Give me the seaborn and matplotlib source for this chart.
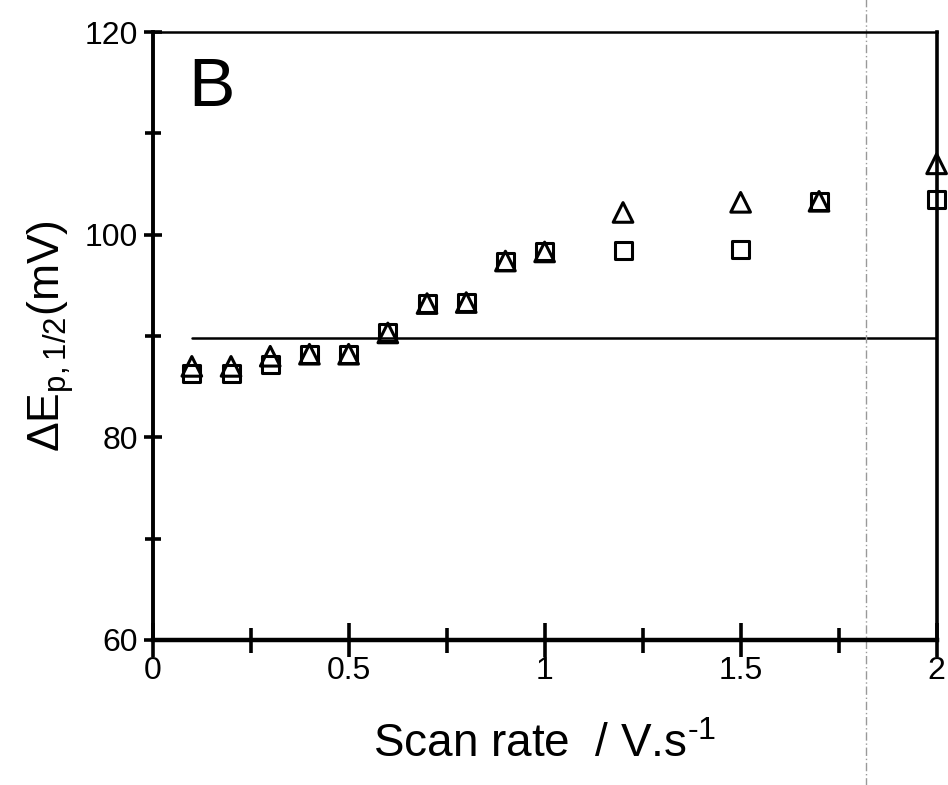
import pandas as pd
import seaborn as sns
import matplotlib.pyplot as plt
from matplotlib.ticker import MultipleLocator


# Data
scan_rate = [0.1, 0.2, 0.3, 0.4, 0.5, 0.6, 0.7, 0.8, 0.9, 1.0, 1.2, 1.5, 1.7, 2.0]
dep_triangle = [87.0, 87.0, 88.0, 88.2, 88.2, 90.3, 93.2, 93.3, 97.4, 98.3, 102.2, 103.2, 103.3, 107.0]
dep_square = [86.3, 86.3, 87.2, 88.2, 88.2, 90.3, 93.2, 93.3, 97.4, 98.3, 98.4, 98.5, 103.3, 103.5]
ref_x = [0.1, 2.0]
ref_y = [89.8, 89.8]

x_ticks = [0, 0.5, 1, 1.5, 2]
x_tick_labels = ['0', '0.5', '1', '1.5', '2']
y_ticks = [60, 80, 100, 120]


sns.set_style('ticks')
plt.rcParams['font.family'] = ['Liberation Sans', 'DejaVu Sans']
plt.rcParams['text.color'] = 'black'
plt.rcParams['axes.labelcolor'] = 'black'
plt.rcParams['xtick.color'] = 'black'
plt.rcParams['ytick.color'] = 'black'

df = pd.DataFrame({'rate': scan_rate, 'tri': dep_triangle, 'sq': dep_square})
df_ref = pd.DataFrame({'rate': ref_x, 'dep': ref_y})

fig, ax = plt.subplots(figsize=(9.48, 7.85), dpi=100)
fig.subplots_adjust(left=0.161, right=0.988, top=0.959, bottom=0.185)

# reference line
sns.lineplot(data=df_ref, x='rate', y='dep', color='black', linewidth=1.8, ax=ax)

# the two series, open markers
sns.scatterplot(data=df, x='rate', y='sq', marker='s', s=150, facecolors='none',
                edgecolor='black', linewidth=2.2, ax=ax, zorder=3, clip_on=False)
sns.scatterplot(data=df, x='rate', y='tri', marker='^', s=200, facecolors='none',
                edgecolor='black', linewidth=2.2, ax=ax, zorder=3, clip_on=False)

# faint scan artefact
ax.axvline(1.82, ymin=-0.24, ymax=1.06, color='0.6', linewidth=1.0,
           linestyle=(0, (6, 2, 1, 2)), clip_on=False)

ax.set_xlim(0, 2)
ax.set_ylim(60, 120)
ax.set_xticks(x_ticks)
ax.set_xticklabels(x_tick_labels)
ax.set_yticks(y_ticks)
ax.xaxis.set_minor_locator(MultipleLocator(0.25))
ax.yaxis.set_minor_locator(MultipleLocator(10))

ax.tick_params(axis='x', which='major', direction='inout', length=24, width=2.6,
               labelsize=23, pad=0, top=False)
ax.tick_params(axis='x', which='minor', direction='inout', length=18, width=2.6, top=False)
ax.tick_params(axis='y', which='major', direction='inout', length=13, width=2.6,
               labelsize=23, pad=4, right=False)
ax.tick_params(axis='y', which='minor', direction='inout', length=11, width=2.6, right=False)

for side, lw in [('left', 2.8), ('bottom', 3.2), ('top', 1.8), ('right', 2.6)]:
    ax.spines[side].set_linewidth(lw)
    ax.spines[side].set_color('black')

ax.set_xlabel('Scan rate  / V.s$^\\mathregular{\u20101}$', fontsize=33, labelpad=26)
ax.set_ylabel('ΔE$_\\mathregular{p,1/2}$(mV)', fontsize=32, labelpad=6)

ax.text(0.045, 0.96, 'B', transform=ax.transAxes, fontsize=50, va='top', ha='left')

fig.savefig('out.png', dpi=100)
